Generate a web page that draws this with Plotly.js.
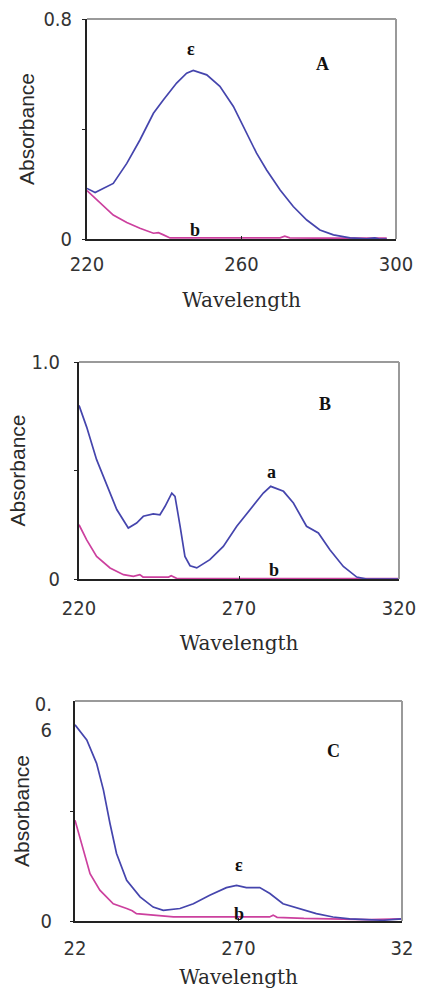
<!DOCTYPE html>
<html>
<head>
<meta charset="utf-8">
<script src="https://cdn.plot.ly/plotly-3.0.1.min.js"></script>
<style>html,body{margin:0;padding:0;background:#fff;}#chart{width:422px;height:989px;}</style>
</head>
<body>
<div id="chart"></div>
<script>
// ---- Data ----
const panelLabels = ["A", "B", "C"];
const curveLabels = ["ε", "a", "ε"];
const baseLabel = "b";
const xTitle = "Wavelength";
const yTitle = "Absorbance";

const xTickValsA = [220, 260, 300];
const xTickTextA = ["220", "260", "300"];
const yTickValsA = [0, 0.4, 0.8];
const yTickTextA = ["0", "", "0.8"];

const xTickValsB = [220, 270, 320];
const xTickTextB = ["220", "270", "320"];
const yTickValsB = [0, 0.5, 1.0];
const yTickTextB = ["0", "", "1.0"];

const xTickValsC = [220, 270, 320];
const xTickTextC = ["22", "270", "32"];
const yTickValsC = [0, 0.3];
const yTickTextC = ["0", ""];
const yTopValC = [0.6];
const yTopTextC = ["0.<br>6"];

// Panel A
const wlA_a = [220,222.1,226.8,230.3,233.7,237.2,239.8,243.2,245.8,247.5,251,254.4,257.9,261.3,263.9,266.5,270,273.4,276.9,280.3,283.8,288.1,292.4,294.5,295.5,297.6];
const absA_a = [0.184,0.169,0.202,0.275,0.36,0.457,0.506,0.567,0.603,0.613,0.597,0.555,0.482,0.385,0.312,0.251,0.178,0.118,0.069,0.033,0.015,0.004,0.001,0.004,0.001,0];
const wlA_b = [220,223.4,226.8,230.3,233.7,237.2,238.5,239.8,241.5,250,260,270,271.2,272.5,280,290,295.5,297.6];
const absA_b = [0.176,0.13,0.087,0.06,0.039,0.021,0.023,0.015,0.004,0.004,0.004,0.004,0.01,0.004,0.003,0.003,0.004,0.003];

// Panel B
const wlB_a = [220,222.4,225.5,228.6,231.8,235.4,238,240.1,243.2,245.3,246.9,249,250,251.6,253.1,254.7,256.8,260.9,265.1,269.3,273.4,277.6,279.9,283.9,287,291.1,294.8,298.4,302.6,306.8,309.9,314,320];
const absB_a = [0.80,0.70,0.55,0.44,0.32,0.235,0.258,0.289,0.30,0.296,0.335,0.396,0.381,0.243,0.104,0.061,0.051,0.089,0.15,0.243,0.32,0.396,0.427,0.404,0.35,0.243,0.212,0.135,0.058,0.009,0,0,0];
const wlB_b = [220,222.4,225.5,229.7,233.9,237,239,240,248,248.8,250.5,260,280,300,313,320];
const absB_b = [0.25,0.18,0.104,0.051,0.02,0.012,0.02,0.009,0.009,0.015,0.003,0.002,0.002,0.002,0.004,0.002];

// Panel C
const wlC_a = [220,223.6,226.6,228.7,230.7,232.7,235.8,239.9,243.9,247,252.1,256.2,261.2,266.3,269.4,272.4,276.5,279.6,283.6,288.7,293.8,298.9,304,309.1,314.2,320];
const absC_a = [0.535,0.494,0.43,0.357,0.266,0.184,0.111,0.066,0.038,0.029,0.034,0.047,0.07,0.091,0.097,0.091,0.091,0.075,0.047,0.034,0.02,0.011,0.006,0.004,0.002,0.006];
const wlC_b = [220,222.5,224.6,227.6,231.7,235.8,237.5,238.8,241.9,247,250.1,260,270,279.5,280.6,281.8,290,300,310,320];
const absC_b = [0.275,0.193,0.129,0.084,0.047,0.034,0.028,0.02,0.018,0.013,0.011,0.011,0.011,0.011,0.016,0.01,0.007,0.005,0.004,0.006];

// ---- Styling ----
const blue = "#4545ad";
const pink = "#cc409e";
const tickFont = {family: "DejaVu Sans Condensed, DejaVu Sans, sans-serif", size: 20, color: "#333"};
const xTitleFont = {family: "DejaVu Serif, serif", size: 20, color: "#2a2a2a"};
const yTitleFont = {family: "Liberation Sans, Arial, sans-serif", size: 21, color: "#2a2a2a"};
const labFont = {family: "Liberation Serif, Times New Roman, serif", size: 18, color: "#111", weight: "bold"};

function line(x, y, color, xa, ya) {
  return {x: x, y: y, xaxis: xa, yaxis: ya, type: "scatter", mode: "lines",
          line: {color: color, width: 1.7}, hoverinfo: "skip", showlegend: false};
}

const data = [
  line(wlA_b, absA_b, pink, "x", "y"),
  line(wlA_a, absA_a, blue, "x", "y"),
  line(wlB_b, absB_b, pink, "x2", "y2"),
  line(wlB_a, absB_a, blue, "x2", "y2"),
  line(wlC_b, absC_b, pink, "x3", "y3"),
  line(wlC_a, absC_a, blue, "x3", "y3"),
  {x: [null], y: [null], xaxis: "x3", yaxis: "y4", type: "scatter", mode: "lines", hoverinfo: "skip", showlegend: false}
];

function xax(dom, anchor, vals, text, tstand, standoff) {
  return {domain: dom, anchor: anchor, range: [vals[0], vals[2]], tickmode: "array",
          tickvals: vals, ticktext: text, tickfont: tickFont, showgrid: false, zeroline: false,
          showline: true, linecolor: "#222", linewidth: 2, ticks: "inside", ticklen: 3, tickcolor: "#222",
          ticklabelstandoff: tstand,
          title: {text: xTitle, font: xTitleFont, standoff: standoff}};
}
function yax(dom, anchor, range, vals, text, tstand, standoff) {
  return {domain: dom, anchor: anchor, range: range, tickmode: "array",
          tickvals: vals, ticktext: text, tickfont: tickFont, showgrid: false, zeroline: false,
          showline: true, linecolor: "#222", linewidth: 2, ticks: "outside", ticklen: 3, tickcolor: "#222",
          ticklabelstandoff: tstand,
          title: {text: yTitle, font: yTitleFont, standoff: standoff}};
}

const domA = {x: [87/422, 396/422], y: [1-239/989, 1-19/989]};
const domB = {x: [79/422, 399/422], y: [1-579/989, 1-362/989]};
const domC = {x: [75/422, 402/422], y: [1-921/989, 1-701/989]};

function border(xa, ya) {
  return [
    {type: "line", xref: xa + " domain", yref: ya + " domain", x0: 0, x1: 1, y0: 1, y1: 1, line: {color: "#9a9a9a", width: 2}},
    {type: "line", xref: xa + " domain", yref: ya + " domain", x0: 1, x1: 1, y0: 0, y1: 1, line: {color: "#9a9a9a", width: 2}}
  ];
}

function ann(text, x, y, xa, ya, font) {
  return {text: text, x: x, y: y, xref: xa, yref: ya, showarrow: false, font: font};
}

const layout = {
  width: 422, height: 989,
  margin: {l: 0, r: 0, t: 0, b: 0},
  paper_bgcolor: "#fff", plot_bgcolor: "#fff",
  showlegend: false,
  xaxis: xax(domA.x, "y", xTickValsA, xTickTextA, 6, 18),
  yaxis: yax(domA.y, "x", [0, 0.8], yTickValsA, yTickTextA, 6, 3),
  xaxis2: xax(domB.x, "y2", xTickValsB, xTickTextB, 10, 17),
  yaxis2: yax(domB.y, "x2", [0, 1.0], yTickValsB, yTickTextB, 10, 0),
  xaxis3: xax(domC.x, "y3", xTickValsC, xTickTextC, 8, 15),
  yaxis3: yax(domC.y, "x3", [0, 0.6], yTickValsC, yTickTextC, 14, 5),
  yaxis4: {domain: domC.y, anchor: "x3", overlaying: "y3", side: "left", range: [0, 0.6],
           tickmode: "array", tickvals: yTopValC, ticktext: yTopTextC, tickfont: tickFont,
           showgrid: false, zeroline: false, showline: false, ticks: "", ticklabelshift: 16,
           ticklabelstandoff: 22},
  shapes: [].concat(border("x", "y"), border("x2", "y2"), border("x3", "y3")),
  annotations: [
    ann(panelLabels[0], 281, 0.635, "x", "y", labFont),
    ann(panelLabels[1], 297, 0.805, "x2", "y2", labFont),
    ann(panelLabels[2], 299, 0.465, "x3", "y3", labFont),
    ann(curveLabels[0], 247, 0.69, "x", "y", labFont),
    ann(baseLabel, 248, 0.032, "x", "y", labFont),
    ann(curveLabels[1], 280, 0.495, "x2", "y2", labFont),
    ann(baseLabel, 281, 0.04, "x2", "y2", labFont),
    ann(curveLabels[2], 270, 0.152, "x3", "y3", labFont),
    ann(baseLabel, 270, 0.02, "x3", "y3", labFont)
  ]
};

Plotly.newPlot("chart", data, layout, {staticPlot: true, displayModeBar: false});
</script>
</body>
</html>
